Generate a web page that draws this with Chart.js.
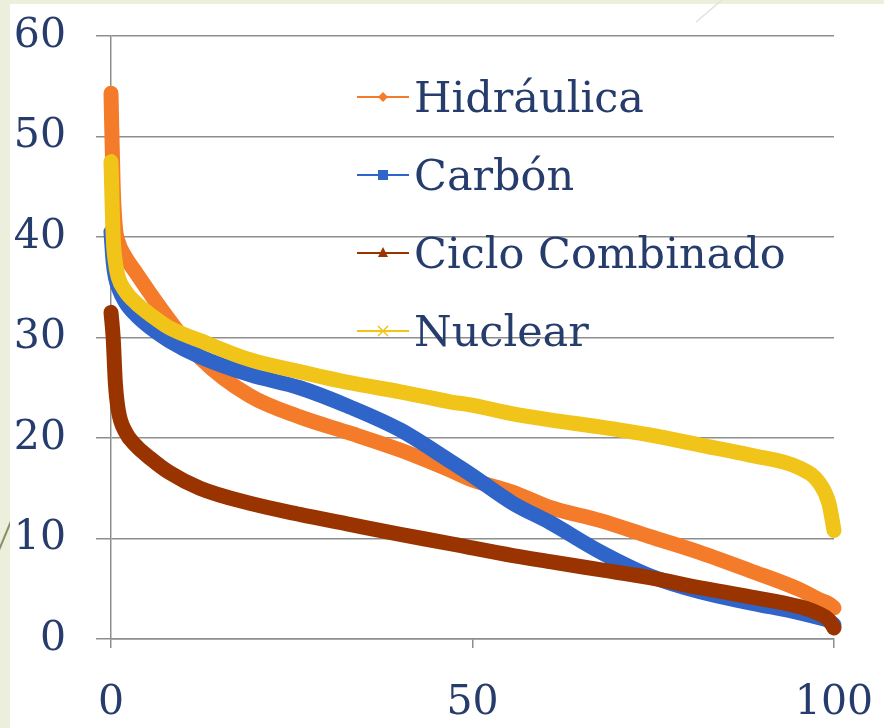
<!DOCTYPE html>
<html>
<head>
<meta charset="utf-8">
<script src="https://cdn.jsdelivr.net/npm/chart.js@4.4.1/dist/chart.umd.min.js"></script>
<style>
    body { margin: 0; background: #ecefdc; width: 884px; height: 728px; overflow: hidden; position: relative; }
    #panel { position: absolute; left: 10px; top: 4px; right: 0; bottom: 0; background: #ffffff; }
    .deco { position: absolute; left: 0; top: 0; }
    #chart { position: absolute; left: 0; top: 0; }
</style>
</head>
<body>
<svg class="deco" width="884" height="728">
    <line x1="-6" y1="562" x2="14" y2="514" stroke="#8c8e6a" stroke-width="2"/>
</svg>
<div id="panel"></div>
<svg class="deco" width="884" height="728">
    <line x1="696" y1="22" x2="722" y2="0" stroke="#e2e4d4" stroke-width="1.5"/>
</svg>
<canvas id="chart" width="884" height="728"></canvas>
<script>
// % of time (x) and power values
const xPct = [0, 0.3, 0.6, 1, 2, 3.5, 5.4, 8, 12.3, 19.2, 26.1, 33, 40, 46.9, 49.7, 55.6, 60.7, 67.6, 74.5, 81.5, 88.4, 95.3, 98, 99.3, 100]

const hidraulica = [54.3, 45, 41, 39.5, 38, 36.4, 34.4, 31.8, 28, 24.2, 22.1, 20.5, 18.8, 16.8, 15.9, 14.6, 13.1, 11.8, 10.2, 8.6, 6.8, 4.9, 3.9, 3.5, 3.1]
const carbon = [40.5, 37.5, 36, 35, 33.5, 32.2, 31, 29.7, 28.1, 26.3, 25, 23.1, 20.8, 17.7, 16.4, 13.5, 11.6, 8.7, 6.3, 4.7, 3.6, 2.6, 2.1, 1.8, 1.4]
const ciclo = [32.5, 30, 25.5, 22.8, 20.6, 19.2, 18.0, 16.6, 15.0, 13.5, 12.4, 11.4, 10.4, 9.5, 9.1, 8.3, 7.7, 6.9, 6.1, 5.1, 4.2, 3.2, 2.5, 1.9, 1.1]
const nuclear = [47.5, 40, 37.5, 36, 34.6, 33.4, 32.3, 31, 29.7, 27.8, 26.6, 25.5, 24.6, 23.6, 23.3, 22.4, 21.8, 21.1, 20.3, 19.3, 18.3, 17, 15.5, 13.5, 10.8]

const seriesNames = ['Hidráulica', 'Carbón', 'Ciclo Combinado', 'Nuclear']
const seriesColors = ['#f47b29', '#2f64c9', '#993300', '#f0c419']
const seriesMarkers = ['diamond', 'square', 'triangle', 'cross']

const yTicks = [0, 10, 20, 30, 40, 50, 60]
const xTicks = [0, 50, 100]

const textColor = '#253c6c'
const gridColor = '#8e8e8e'
const fontFamily = "'DejaVu Serif', serif"

function toPoints(values) {
    return values.map((v, i) => ({ x: xPct[i], y: v }))
}

const allSeries = [hidraulica, carbon, ciclo, nuclear]
const datasets = allSeries.map((values, i) => ({
    label: seriesNames[i],
    data: toPoints(values),
    borderColor: seriesColors[i],
    backgroundColor: seriesColors[i],
    borderWidth: 15,
    borderCapStyle: 'round',
    borderJoinStyle: 'round',
    cubicInterpolationMode: 'monotone',
    pointRadius: 0,
    clip: false,
    // Excel draws the last series on top
    order: allSeries.length - 1 - i
}))

function drawMarker(ctx, type, x, y, color) {
    ctx.save()
    ctx.fillStyle = color
    ctx.strokeStyle = color
    ctx.beginPath()
    if (type == 'diamond') {
        ctx.moveTo(x, y - 5); ctx.lineTo(x + 5, y); ctx.lineTo(x, y + 5); ctx.lineTo(x - 5, y)
        ctx.closePath(); ctx.fill()
    } else if (type == 'square') {
        ctx.fillRect(x - 5, y - 5, 10, 10)
    } else if (type == 'triangle') {
        ctx.moveTo(x, y - 6); ctx.lineTo(x + 5, y + 4); ctx.lineTo(x - 5, y + 4)
        ctx.closePath(); ctx.fill()
    } else {
        ctx.lineWidth = 1.5
        ctx.moveTo(x - 5, y - 5); ctx.lineTo(x + 5, y + 5)
        ctx.moveTo(x + 5, y - 5); ctx.lineTo(x - 5, y + 5)
        ctx.stroke()
    }
    ctx.restore()
}

// legend sits inside the plot, top right, like the original
const insideLegend = {
    id: 'insideLegend',
    afterDraw(chart) {
        const ctx = chart.ctx
        const area = chart.chartArea
        chart.data.datasets.forEach((ds, i) => {
            const cy = area.top + 61 + i * 78
            const x0 = area.left + 246
            ctx.save()
            ctx.strokeStyle = seriesColors[i]
            ctx.lineWidth = 2
            ctx.beginPath()
            ctx.moveTo(x0, cy)
            ctx.lineTo(x0 + 52, cy)
            ctx.stroke()
            drawMarker(ctx, seriesMarkers[i], x0 + 26, cy, seriesColors[i])
            ctx.fillStyle = textColor
            ctx.font = '43px ' + fontFamily
            ctx.textBaseline = 'alphabetic'
            ctx.fillText(ds.label, x0 + 57, cy + 15)
            ctx.restore()
        })
    }
}

const config = {
    type: 'line',
    data: { datasets: datasets },
    options: {
        responsive: false,
        animation: false,
        layout: {
            padding: { left: 14, top: 36, right: 50, bottom: 4 }
        },
        scales: {
            x: {
                type: 'linear',
                min: 0,
                max: 100,
                afterBuildTicks: (axis) => { axis.ticks = xTicks.map(v => ({ value: v })) },
                afterFit: (axis) => {
                    axis.height = 85
                    axis.paddingLeft = 0
                    axis.paddingRight = 0
                },
                grid: {
                    drawOnChartArea: false,
                    color: gridColor,
                    lineWidth: 1.5,
                    tickLength: 9
                },
                border: { display: true, color: gridColor, width: 1.5 },
                ticks: {
                    color: textColor,
                    padding: 31,
                    maxRotation: 0,
                    font: { family: fontFamily, size: 41 }
                }
            },
            y: {
                min: 0,
                max: 60,
                afterBuildTicks: (axis) => { axis.ticks = yTicks.map(v => ({ value: v })) },
                afterFit: (axis) => {
                    axis.width = 97
                    axis.paddingTop = 0
                    axis.paddingBottom = 0
                },
                grid: {
                    color: gridColor,
                    lineWidth: 1.5,
                    tickLength: 15
                },
                border: { display: true, color: gridColor, width: 1.5 },
                ticks: {
                    color: textColor,
                    padding: 30,
                    font: { family: fontFamily, size: 41 }
                }
            }
        },
        plugins: {
            legend: { display: false },
            tooltip: { enabled: false }
        }
    },
    plugins: [insideLegend]
}

const myChart = new Chart(document.getElementById('chart'), config)
</script>
</body>
</html>
